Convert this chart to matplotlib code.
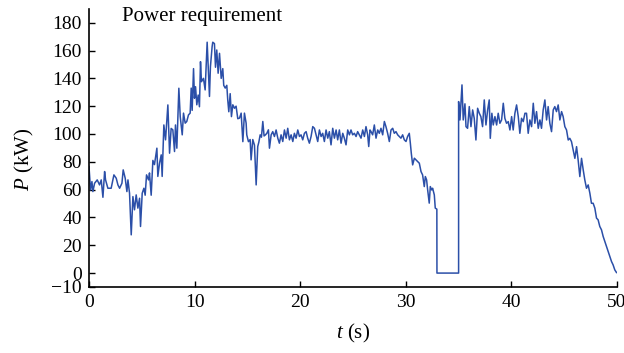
import matplotlib
matplotlib.use("Agg")
import matplotlib.pyplot as plt

# power demand trace, time in s and power in kW
t_s = [
    0.0, 0.15, 0.28, 0.37, 0.53, 0.78, 1.0, 1.16, 1.32, 1.48, 1.57, 1.79, 2.1,
    2.36, 2.58, 2.74, 2.9, 3.12, 3.24, 3.43, 3.59, 3.69, 3.84, 4.0, 4.16, 4.31,
    4.47, 4.63, 4.79, 4.88, 5.04, 5.2, 5.32, 5.45, 5.64, 5.73, 5.89, 6.05, 6.2,
    6.43, 6.52, 6.68, 6.84, 6.93, 7.09, 7.25, 7.47, 7.63, 7.78, 7.94, 8.1, 8.19,
    8.32, 8.51, 8.64, 8.83, 8.95, 9.11, 9.26, 9.42, 9.58, 9.68, 9.77, 9.9, 9.99,
    10.09, 10.21, 10.34, 10.46, 10.56, 10.65, 10.84, 11.0, 11.19, 11.31, 11.41,
    11.5, 11.66, 11.72, 11.88, 11.98, 12.1, 12.23, 12.36, 12.52, 12.67, 12.76,
    12.9, 13.05, 13.14, 13.24, 13.37, 13.49, 13.62, 13.78, 13.93, 14.09, 14.25,
    14.41, 14.57, 14.72, 14.88, 14.94, 15.1, 15.26, 15.35, 15.51, 15.67, 15.83,
    15.98, 16.08, 16.21, 16.33, 16.46, 16.58, 16.71, 16.84, 16.99, 17.09, 17.25,
    17.4, 17.56, 17.72, 17.88, 18.03, 18.19, 18.35, 18.51, 18.67, 18.82, 18.98,
    19.14, 19.3, 19.45, 19.61, 19.77, 19.93, 20.08, 20.24, 20.4, 20.56, 20.71,
    20.87, 21.03, 21.19, 21.35, 21.5, 21.66, 21.82, 21.98, 22.13, 22.29, 22.45,
    22.61, 22.76, 22.92, 23.08, 23.24, 23.4, 23.55, 23.71, 23.87, 24.03, 24.18,
    24.34, 24.5, 24.66, 24.81, 24.97, 25.13, 25.29, 25.44, 25.6, 25.76, 25.92,
    26.08, 26.23, 26.39, 26.49, 26.61, 26.71, 26.86, 27.02, 27.18, 27.34, 27.49,
    27.65, 27.81, 27.97, 28.12, 28.28, 28.44, 28.6, 28.76, 28.91, 29.07, 29.23,
    29.39, 29.54, 29.7, 29.86, 30.02, 30.17, 30.33, 30.43, 30.52, 30.65, 30.81,
    30.96, 31.12, 31.28, 31.44, 31.59, 31.75, 31.85, 31.97, 32.07, 32.22, 32.32,
    32.45, 32.54, 32.7, 32.79, 32.94, 32.95, 35.0, 35.0, 35.13, 35.32, 35.44,
    35.6, 35.7, 35.85, 36.01, 36.17, 36.33, 36.48, 36.64, 36.8, 36.96, 37.11,
    37.27, 37.43, 37.59, 37.75, 37.9, 38.0, 38.15, 38.28, 38.44, 38.6, 38.75,
    38.91, 39.07, 39.23, 39.38, 39.54, 39.7, 39.86, 40.02, 40.17, 40.33, 40.49,
    40.65, 40.8, 40.96, 41.12, 41.28, 41.43, 41.59, 41.75, 41.91, 42.07, 42.22,
    42.38, 42.54, 42.7, 42.85, 43.01, 43.17, 43.33, 43.48, 43.64, 43.8, 43.96,
    44.11, 44.27, 44.43, 44.59, 44.75, 44.9, 45.06, 45.22, 45.38, 45.53, 45.69,
    45.85, 46.01, 46.17, 46.32, 46.48, 46.64, 46.8, 46.95, 47.11, 47.27, 47.43,
    47.58, 47.74, 47.9, 48.06, 48.21, 48.37, 48.53, 48.69, 48.85, 49.0, 49.16,
    49.32, 49.48, 49.63, 49.79, 49.95,
]
p_kw = [
    76.6, 59.8, 65.8, 58.6, 64.6, 67.0, 63.4, 67.0, 54.5, 73.0, 67.0, 61.0, 61.0,
    70.6, 68.2, 63.4, 61.0, 64.6, 74.2, 68.2, 58.6, 67.0, 57.4, 27.5, 55.0, 45.5,
    56.2, 46.7, 53.8, 33.5, 57.4, 61.0, 56.0, 70.6, 67.0, 72.0, 56.0, 81.0, 78.0,
    89.8, 69.5, 79.0, 85.0, 69.5, 106.5, 95.8, 120.9, 86.2, 104.0, 103.0, 87.4, 106.5,
    89.8, 132.9, 112.5, 99.4, 115.0, 107.8, 109.0, 113.7, 115.0, 133.0, 117.0, 147.0, 125.7,
    134.0, 121.0, 128.0, 119.6, 152.0, 137.6, 140.0, 131.7, 166.0, 143.7, 127.0,
    148.4, 162.8, 166.0, 165.0, 148.0, 160.4, 143.7, 158.0, 140.0, 147.0, 135.0,
    133.0, 135.0, 124.5, 116.0, 129.0, 112.5, 121.0, 118.5, 120.0, 111.0, 111.4,
    115.0, 94.5, 115.0, 107.8, 99.4, 94.5, 96.0, 81.4, 96.0, 92.0, 63.4,
    91.0, 94.0, 99.4, 97.7, 109.0, 98.6, 99.4, 100.5, 103.0, 89.8, 99.4,
    101.7, 98.2, 102.9, 97.0, 93.4, 99.4, 94.6, 102.9, 97.0, 104.1, 95.8,
    99.4, 94.6, 100.5, 97.0, 102.9, 98.2, 99.4, 95.8, 100.5, 101.7, 97.0,
    93.4, 98.2, 105.3, 104.1, 99.4, 94.6, 102.9, 98.2, 100.5, 94.6, 102.9,
    97.0, 101.7, 92.2, 104.1, 97.0, 102.9, 95.8, 102.9, 93.4, 100.5, 97.0,
    92.2, 102.9, 99.4, 102.9, 99.4, 100.5, 98.2, 101.7, 99.4, 97.0, 102.9,
    98.2, 105.3, 99.4, 91.0, 102.9, 101.7, 99.4, 106.5, 97.0, 102.9, 100.5,
    104.1, 99.4, 109.0, 105.3, 100.5, 94.6, 102.9, 104.1, 100.5, 101.7, 99.4,
    98.2, 97.0, 99.4, 95.8, 94.6, 98.2, 100.5, 93.4, 86.2, 77.8, 82.6,
    81.4, 80.2, 79.0, 73.0, 70.6, 62.2, 69.4, 67.0, 59.8, 50.3, 62.2,
    59.8, 61.0, 56.2, 46.7, 46.0, 0.0, 0.0, 123.3, 110.1, 135.3, 110.1,
    121.7, 105.3, 104.1, 119.7, 105.3, 117.3, 111.3, 95.7, 118.5, 114.9, 112.5,
    105.3, 124.5, 106.5, 117.3, 124.5, 96.9, 114.9, 106.5, 112.5, 106.5, 114.9,
    107.7, 110.1, 122.1, 111.3, 107.7, 108.9, 102.9, 112.5, 102.9, 114.9, 120.9,
    112.5, 100.5, 111.3, 108.9, 114.9, 114.9, 100.5, 110.1, 105.3, 122.1, 107.7,
    116.1, 104.1, 110.1, 104.1, 117.3, 124.5, 110.1, 119.7, 107.7, 101.7, 117.3,
    119.7, 116.1, 120.9, 110.1, 116.1, 112.5, 105.3, 102.9, 95.7, 96.9, 94.5,
    88.5, 82.5, 90.9, 81.3, 69.4, 82.5, 74.2, 67.0, 61.0, 63.4, 57.4,
    50.2, 50.2, 46.7, 39.5, 38.3, 33.5, 31.1, 26.3, 22.7, 19.1, 15.5,
    11.9, 8.3, 5.9, 2.3, 0.4,
]
x_ticks = [0, 10, 20, 30, 40, 50]
y_ticks = [-10, 0, 20, 40, 60, 80, 100, 120, 140, 160, 180]

plt.rcParams["font.family"] = ["Liberation Serif", "DejaVu Serif"]
plt.rcParams["mathtext.fontset"] = "custom"
plt.rcParams["mathtext.rm"] = "Liberation Serif"
plt.rcParams["mathtext.it"] = "Liberation Serif:italic"

fig = plt.figure(figsize=(6.24, 3.53), dpi=100)
ax = fig.add_axes([0.1426, 0.187, 0.8462, 0.788])

ax.plot(t_s, p_kw, color="#2b4fa8", lw=1.1)

ax.set_xlim(0, 50)
ax.set_ylim(-10, 190)
ax.set_xticks(x_ticks)
ax.set_yticks(y_ticks)
ax.tick_params(direction="in", length=4, width=1, labelsize=14, pad=5)
for side in ("top", "right"):
    ax.spines[side].set_visible(False)
for side in ("left", "bottom"):
    ax.spines[side].set_linewidth(1.2)

ax.set_xlabel(r"$t$ (s)", fontsize=15)
ax.set_ylabel(r"$P$ (kW)", fontsize=15)
ax.xaxis.set_label_coords(0.5, -0.125)
ax.yaxis.set_label_coords(-0.1, 0.46)

ax.text(3.1, 181, "Power requirement", fontsize=15, va="baseline", ha="left")

fig.savefig("out.png", dpi=100)
